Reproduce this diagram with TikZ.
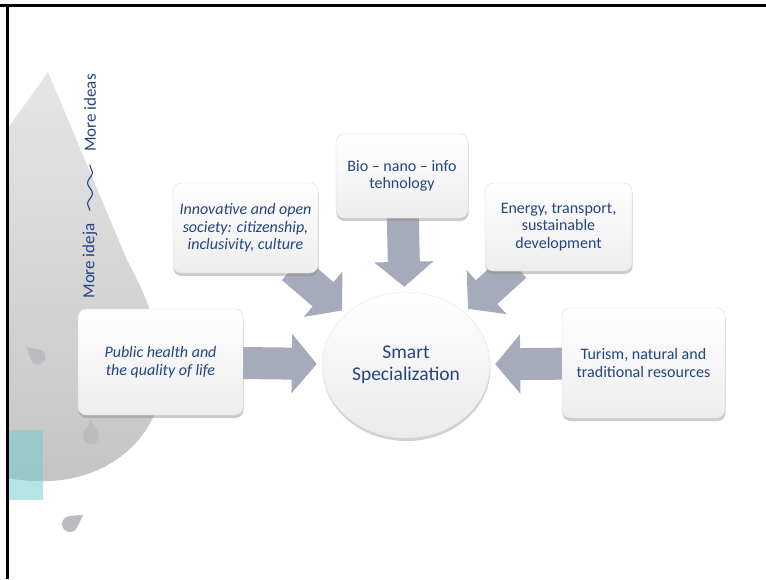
\documentclass[tikz,border=0pt]{standalone}
\usepackage{fontspec}
\setmainfont{Carlito}
\usetikzlibrary{arrows.meta,shapes.geometric,shadows,backgrounds,decorations.pathmorphing}
\definecolor{labelblue}{RGB}{35,70,130}
\definecolor{arrowgray}{RGB}{166,171,188}
\definecolor{tealpatch}{RGB}{105,205,201}
\definecolor{dropgray}{RGB}{186,188,194}
\tikzset{
  topicbox/.style={rectangle, rounded corners=8pt, draw=black!15, top color=white, bottom color=black!7,
    drop shadow={shadow xshift=0.5pt, shadow yshift=-3pt, opacity=0.45, fill=black!45},
    text=labelblue, align=center, inner sep=2pt, font=\fontsize{16}{17.5}\selectfont},
  slantbox/.style={topicbox, font=\fontsize{16}{17.5}\selectfont\itshape},
  hubnode/.style={ellipse, draw=black!10, top color=white, bottom color=black!8,
    drop shadow={shadow xshift=0.5pt, shadow yshift=-3pt, opacity=0.4, fill=black!45},
    text=labelblue, align=center, font=\fontsize{19.5}{22}\selectfont,
    minimum width=168pt, minimum height=146pt},
  blockarrow/.style={draw=arrowgray, line width=32pt, -{Triangle[length=25pt,width=58pt]},
    shorten >=5pt, shorten <=-8pt},
  ideatext/.style={rotate=90, text=labelblue, font=\fontsize{17}{17}\selectfont, inner sep=1pt, outer sep=12pt},
  raindrop/.style={fill=dropgray}
}
\begin{document}
\begin{tikzpicture}[x=1pt,y=-1pt]
        \useasboundingbox (0,0) rectangle (766,579);
        \shade[top color=black!10, bottom color=black!23] (8,128) -- (48,72) -- (127,260)
          .. controls (160,320) and (180,390) .. (140,438)
          .. controls (110,475) and (60,488) .. (8,478) -- cycle;
        \fill[tealpatch, opacity=0.5] (8,430) rectangle (43,500);
        \fill[raindrop, shift={(38,357)}, rotate=50] (0,-15) -- (-30:7.5) arc[start angle=-30, end angle=210, radius=7.5] -- cycle;
        \fill[raindrop, shift={(91,436)}] (0,-16) -- (-30:8) arc[start angle=-30, end angle=210, radius=8] -- cycle;
        \fill[raindrop, shift={(70,524)}, rotate=-55] (0,-16) -- (-30:8) arc[start angle=-30, end angle=210, radius=8] -- cycle;
        \node[ideatext] (ideas) at (90,113) {More ideas};
        \node[ideatext] (ideja) at (90,261) {More ideja};
        \draw[labelblue, line width=1.1pt, decorate, decoration={snake, amplitude=2.5pt, segment length=21pt}] (ideja) -- (ideas);
        \node[hubnode] (smart) at (406,365) {Smart\\Specialization};
        \node[slantbox, minimum width=165pt, minimum height=106pt] (pubh) at (160.5,362) {Public health and\\the quality of life};
        \node[slantbox, minimum width=145pt, minimum height=90pt] (innov) at (245.5,228) {Innovative and open\\society: citizenship,\\inclusivity, culture};
        \node[topicbox, minimum width=132pt, minimum height=84pt] (bio) at (402,176) {Bio -- nano -- info\\tehnology};
        \node[topicbox, minimum width=147pt, minimum height=88pt] (energy) at (558.5,227) {Energy, transport,\\sustainable\\development};
        \node[topicbox, minimum width=163pt, minimum height=110pt] (turism) at (643.5,363) {Turism, natural and\\traditional resources};
        \begin{scope}[on background layer]
          \draw[blockarrow] (pubh) -- (smart);
          \draw[blockarrow] (innov) -- (smart);
          \draw[blockarrow] (bio) -- (smart);
          \draw[blockarrow] (energy) -- (smart);
          \draw[blockarrow] (turism) -- (smart);
        \end{scope}
        \draw[line width=3pt] (0,5) -- (766,5);
        \draw[line width=2.5pt] (7.5,5) -- (7.5,579);
\end{tikzpicture}
\end{document}
